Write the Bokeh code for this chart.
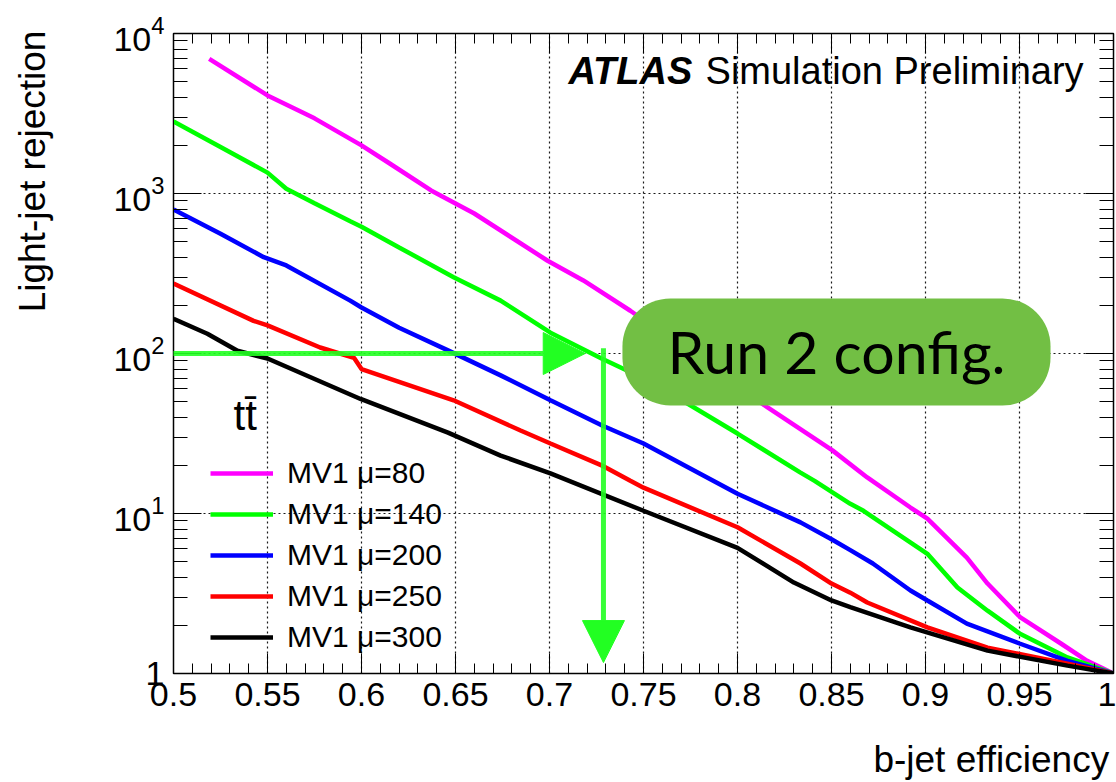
import json
from bokeh.plotting import figure
from bokeh.models import (Range1d, FixedTicker, LinearAxis, LogAxis, Legend, LegendItem,
                          Label, Arrow, NormalHead, BoxAnnotation, LogTickFormatter,
                          CustomJSTickFormatter)
from bokeh.embed import file_html
from bokeh.resources import INLINE

# ---------------- data ----------------
eff_mu80 = [0.519, 0.55, 0.575, 0.6, 0.615, 0.637, 0.66, 0.699, 0.718, 0.743, 0.78, 0.816,
            0.8505, 0.869, 0.892, 0.901, 0.922, 0.933, 0.9505, 0.972, 0.986, 1.0]
rej_mu80 = [6950, 4100, 2950, 2000, 1540, 1045, 750, 380, 286, 185, 92, 46,
            24.8, 16.8, 10.9, 9.3, 5.3, 3.65, 2.24, 1.54, 1.2, 1.0]

eff_mu140 = [0.5, 0.525, 0.55, 0.56, 0.575, 0.594, 0.6, 0.62, 0.649, 0.674, 0.7005, 0.7277,
             0.7415, 0.75, 0.8, 0.8335, 0.841, 0.86, 0.867, 0.901, 0.917, 0.933, 0.95, 0.9755, 1.0]
rej_mu140 = [2820, 1950, 1350, 1070, 870, 670, 620, 460, 300, 214, 135, 93,
             78, 71, 31.6, 18, 16, 11.5, 10.4, 5.6, 3.45, 2.47, 1.78, 1.26, 1.0]

eff_mu200 = [0.5, 0.525, 0.548, 0.56, 0.594, 0.6, 0.62, 0.6457, 0.674, 0.7005, 0.728, 0.75,
             0.8, 0.8335, 0.85, 0.86, 0.872, 0.892, 0.901, 0.922, 0.95, 0.9755, 1.0]
rej_mu200 = [794, 560, 400, 355, 214, 194, 145, 105, 73, 51, 35.5, 27.4,
             13.3, 8.8, 6.9, 5.9, 4.87, 3.3, 2.86, 2.05, 1.54, 1.2, 1.0]

eff_mu250 = [0.5, 0.5426, 0.55, 0.578, 0.596, 0.6, 0.649, 0.6846, 0.7005, 0.7277, 0.743, 0.75,
             0.8, 0.8335, 0.85, 0.86, 0.869, 0.901, 0.933, 0.9755, 1.0]
rej_mu250 = [274, 160, 150, 109, 94, 80, 51, 33, 27.4, 20, 16, 14.5,
             8.2, 4.87, 3.65, 3.2, 2.78, 1.94, 1.45, 1.15, 1.0]

eff_mu300 = [0.5, 0.518, 0.534, 0.55, 0.5995, 0.646, 0.674, 0.7005, 0.75, 0.8, 0.83,
             0.85, 0.86, 0.892, 0.933, 0.9755, 1.0]
rej_mu300 = [165, 133, 104, 93, 52, 32, 23, 17.8, 10.4, 6.1, 3.7,
             2.86, 2.6, 1.94, 1.39, 1.12, 1.0]

series_labels = ["MV1 \u03bc=80", "MV1 \u03bc=140", "MV1 \u03bc=200", "MV1 \u03bc=250", "MV1 \u03bc=300"]
series_colors = ["#ff00ff", "#00ff00", "#0000ff", "#ff0000", "#000000"]

x_ticks = [0.5, 0.55, 0.6, 0.65, 0.7, 0.75, 0.8, 0.85, 0.9, 0.95, 1.0]
y_ticks = [1, 10, 100, 1000, 10000]

x_title = "b-jet efficiency"
y_title = "Light-jet rejection"

# working point annotation
wp_eff = 0.7287
wp_rej = 100

# ---------------- figure ----------------
FONT = "Liberation Sans"
p = figure(width=1116, height=782, y_axis_type="log",
           x_range=Range1d(0.5, 1.0), y_range=Range1d(1, 1e4),
           output_backend="svg", toolbar_location=None,
           min_border_left=173, min_border_right=3, min_border_top=33, min_border_bottom=109)
p.background_fill_color = "white"
p.border_fill_color = "white"
p.outline_line_color = "black"
p.outline_line_width = 1.5

x_minor = [round(0.5 + 0.01 * i, 2) for i in range(51)]
y_minor = [m * 10 ** d for d in range(4) for m in range(2, 10)]
xticker = FixedTicker(ticks=x_ticks, minor_ticks=x_minor)
yticker = FixedTicker(ticks=y_ticks, minor_ticks=y_minor)

xa = p.xaxis[0]
xa.ticker = xticker
ya = p.yaxis[0]
ya.ticker = yticker
ya.formatter = LogTickFormatter(min_exponent=1)

for ax, tin, mtin in ((xa, 20, 10), (ya, 28, 14)):
    ax.major_tick_in = tin
    ax.major_tick_out = 0
    ax.minor_tick_in = mtin
    ax.minor_tick_out = 0
    ax.major_tick_line_color = "black"
    ax.minor_tick_line_color = "black"
    ax.axis_line_color = "black"
    ax.major_label_text_font = FONT
    ax.major_label_text_font_size = "34px"
    ax.major_label_text_color = "black"
    ax.major_label_standoff = 9

top = LinearAxis(ticker=xticker, major_tick_in=20, major_tick_out=0, minor_tick_in=10,
                 minor_tick_out=0, major_label_text_font_size="1px", major_label_standoff=0,
                 major_label_text_color=None, axis_line_color="black")
right = LogAxis(ticker=yticker, major_tick_in=28, major_tick_out=0, minor_tick_in=14,
                minor_tick_out=0, major_label_text_font_size="1px", major_label_standoff=0,
                major_label_text_color=None, axis_line_color="black")
p.add_layout(top, "above")
p.add_layout(right, "right")

# axis titles (ROOT style: aligned to the high end of each axis)
xtitle_axis = LinearAxis(ticker=FixedTicker(ticks=[0.935], minor_ticks=[]),
                         formatter=CustomJSTickFormatter(code="return %s;" % json.dumps(x_title)),
                         axis_line_color=None, major_tick_line_color=None,
                         minor_tick_line_color=None, major_tick_in=0, major_tick_out=0,
                         major_label_standoff=30, major_label_text_font=FONT,
                         major_label_text_font_size="37px", major_label_text_color="black")
ytitle_axis = LogAxis(ticker=FixedTicker(ticks=[1373], minor_ticks=[]),
                      formatter=CustomJSTickFormatter(code="return %s;" % json.dumps(y_title)),
                      axis_line_color=None, major_tick_line_color=None,
                      minor_tick_line_color=None, major_tick_in=0, major_tick_out=0,
                      major_label_orientation="vertical",
                      major_label_standoff=57, major_label_text_font=FONT,
                      major_label_text_font_size="37px", major_label_text_color="black")
p.add_layout(xtitle_axis, "below")
p.add_layout(ytitle_axis, "left")

p.xgrid.ticker = xticker
p.ygrid.ticker = yticker
for g in (p.xgrid, p.ygrid):
    g.grid_line_color = "black"
    g.grid_line_dash = "2 3"
    g.grid_line_width = 1.2
    g.grid_line_alpha = 0.9

# ---------------- curves ----------------
series = [(eff_mu80, rej_mu80), (eff_mu140, rej_mu140), (eff_mu200, rej_mu200),
          (eff_mu250, rej_mu250), (eff_mu300, rej_mu300)]
items = []
for (xs, ys), lab, col in zip(series, series_labels, series_colors):
    r = p.line(xs, ys, line_color=col, line_width=4.5)
    items.append(LegendItem(label=lab, renderers=[r]))

legend = Legend(items=items, location=(37, 19), glyph_width=63, glyph_height=34,
                label_height=34, spacing=7, padding=0, margin=0, label_standoff=14,
                border_line_color=None, background_fill_alpha=0,
                label_text_font=FONT, label_text_font_size="30px", label_text_color="black")
p.add_layout(legend)

# ---------------- hand-drawn working-point arrows ----------------
arrow_col = "#22ff22"
p.add_layout(Arrow(x_start=0.4995, y_start=wp_rej, x_end=0.719, y_end=wp_rej,
                   line_color=arrow_col, line_width=5, line_alpha=0.9,
                   end=NormalHead(size=42, fill_color=arrow_col, line_color=arrow_col)))
p.add_layout(Arrow(x_start=wp_eff, y_start=108, x_end=wp_eff, y_end=1.17,
                   line_color=arrow_col, line_width=5, line_alpha=0.9,
                   end=NormalHead(size=42, fill_color=arrow_col, line_color=arrow_col)))

# ---------------- callout box ----------------
p.add_layout(BoxAnnotation(left=0.7388, right=0.9665, bottom=47.3, top=221,
                           fill_color="#72bf44", fill_alpha=1.0, line_color=None,
                           border_radius=48))
p.add_layout(Label(x=0.8527, y=102.3, text="Run 2 config.", text_align="center",
                   text_baseline="alphabetic", text_font="Lato", text_font_size="59px",
                   text_color="black"))

# ---------------- texts ----------------
p.add_layout(Label(x=0.7101, y=5870, text="ATLAS", text_font=FONT, text_font_style="bold italic",
                   text_font_size="38px", text_baseline="alphabetic", text_color="black"))
p.add_layout(Label(x=0.783, y=5870, text="Simulation Preliminary", text_font=FONT,
                   text_font_size="38px", text_baseline="alphabetic", text_color="black"))
p.add_layout(Label(x=0.5319, y=41.0, text="t\u0074\u0304", text_font=FONT,
                   text_font_size="42px", text_baseline="alphabetic", text_color="black"))

open("out.html", "w").write(file_html(p, INLINE))
